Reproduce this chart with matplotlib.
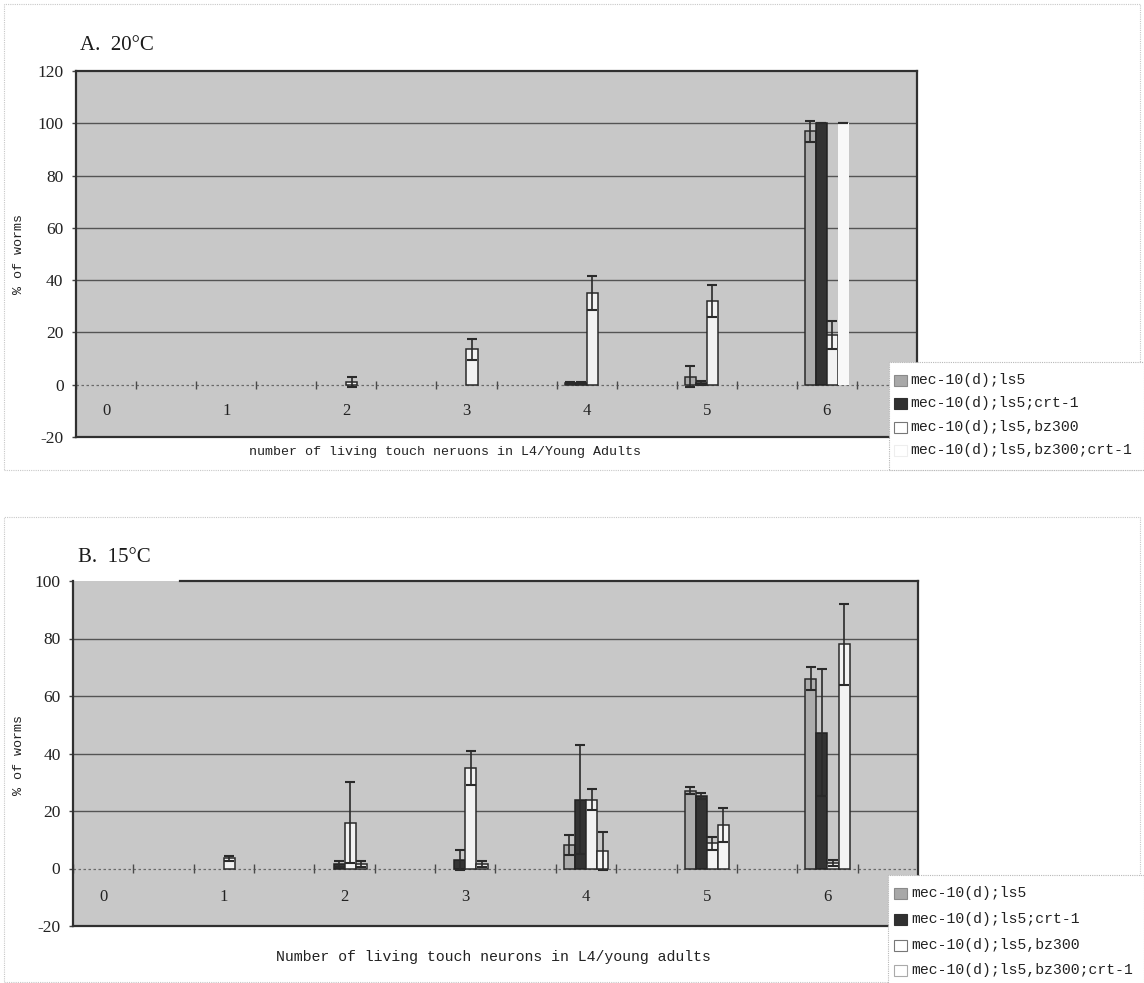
import matplotlib
matplotlib.use("Agg")
import matplotlib.pyplot as plt
from matplotlib.patches import Rectangle
from matplotlib.lines import Line2D
import numpy as np

# ---------------- data ----------------
categories = [0, 1, 2, 3, 4, 5, 6]
series_names = ["mec-10(d);ls5", "mec-10(d);ls5;crt-1",
                "mec-10(d);ls5,bz300", "mec-10(d);ls5,bz300;crt-1"]

# Panel A: 20 C
A_s1 = [0, 0, 0, 0, 0.5, 3, 97]
A_s1_err = [0, 0, 0, 0, 0.4, 4, 4]
A_s2 = [0, 0, 0, 0, 0.5, 0.8, 100]
A_s2_err = [0, 0, 0, 0, 0.4, 0.8, 0]
A_s3 = [0, 0, 1, 13.5, 35, 32, 19]
A_s3_err = [0, 0, 2, 4, 6.5, 6, 5.5]
A_s4 = [0, 0, 0, 0, 0, 0, 100]
A_s4_err = [0, 0, 0, 0, 0, 0, 0]

# Panel B: 15 C
B_s1 = [0, 0, 0, 0, 8.3, 27, 66]
B_s1_err = [0, 0, 0, 0, 3.5, 1.2, 4]
B_s2 = [0, 0, 1.5, 3, 24, 25.3, 47.3]
B_s2_err = [0, 0, 1, 3.5, 19, 1, 22]
B_s3 = [0, 3.5, 16, 35, 24, 8.7, 2]
B_s3_err = [0, 1, 14, 6, 3.7, 2.2, 1]
B_s4 = [0, 0, 1.5, 1.5, 6, 15.2, 78]
B_s4_err = [0, 0, 1, 1, 6.6, 6, 14]

A_yticks = [-20, 0, 20, 40, 60, 80, 100, 120]
B_yticks = [-20, 0, 20, 40, 60, 80, 100]

# ---------------- style ----------------
W, H = 1144, 983
fig = plt.figure(figsize=(W / 100, H / 100), dpi=100)
fig.patch.set_facecolor("white")

SERIF = ["Liberation Serif", "DejaVu Serif"]
MONO = ["Liberation Mono", "DejaVu Sans Mono"]
PLOT_BG = "#c8c8c8"
DARK = "#2a2a2a"
GRID = "#545454"

def fx(px):
    return px / W

def fy(py):
    return 1 - py / H

def ax_rect(l, t, r, b):
    return [fx(l), fy(b), fx(r) - fx(l), fy(t) - fy(b)]

bar_w = 0.092
offsets = [-1.5 * bar_w, -0.5 * bar_w, 0.5 * bar_w, 1.5 * bar_w]


def draw_panel(ax, vals, errs, styles, ylim, yticks):
    ax.set_facecolor(PLOT_BG)
    ax.set_xlim(-0.25, 6.75)
    ax.set_ylim(*ylim)
    cats = np.array(categories, dtype=float)
    for yv in yticks:
        if yv > 0 and yv < ylim[1]:
            ax.axhline(yv, color=GRID, lw=1.0, zorder=1)
    ax.axhline(0, color="#6a6a6a", lw=0.9, ls=(0, (2, 2)), zorder=1)
    tick_x = np.arange(-0.25, 6.76, 0.5)
    ax.vlines(tick_x, -1.6, 1.6, color="#4a4a4a", lw=1.0, zorder=1)
    for i in range(4):
        v = np.array(vals[i], dtype=float)
        e = np.array(errs[i], dtype=float)
        fc, ec = styles[i]
        mask = v > 0
        ax.bar(cats[mask] + offsets[i], v[mask], width=bar_w, color=fc,
               edgecolor=ec, linewidth=1.1, zorder=3)
        emask = (v > 0) | (e > 0)
        ax.errorbar(cats[emask] + offsets[i], v[emask], yerr=e[emask], fmt="none",
                    ecolor=DARK, elinewidth=1.2, capsize=3.8, capthick=1.5, zorder=4)
    for k in categories:
        ax.text(k, -10, str(k), ha="center", va="center", fontsize=12,
                family=SERIF, color="#222222", zorder=5)
    ax.set_xticks([])
    ax.set_yticks(yticks)
    ax.set_yticklabels([str(t) for t in yticks], family=SERIF, fontsize=12.5,
                       color="#222222")
    ax.tick_params(axis="y", length=3, width=1, color="#444444", pad=6)
    for s in ax.spines.values():
        s.set_color("#303030")
        s.set_linewidth(1.6)


# ---------------- panel A ----------------
axA = fig.add_axes(ax_rect(76, 71, 917, 437))
stylesA = [("#acacac", DARK), ("#333333", "#222222"),
           ("#f2f2f2", DARK), ("#f8f8f8", "none")]
draw_panel(axA, [A_s1, A_s2, A_s3, A_s4], [A_s1_err, A_s2_err, A_s3_err, A_s4_err],
           stylesA, (-20, 120), A_yticks)

# ---------------- panel B ----------------
axB = fig.add_axes(ax_rect(73, 581, 918, 926))
stylesB = [("#acacac", DARK), ("#333333", "#222222"),
           ("#f2f2f2", DARK), ("#f4f4f4", DARK)]
draw_panel(axB, [B_s1, B_s2, B_s3, B_s4], [B_s1_err, B_s2_err, B_s3_err, B_s4_err],
           stylesB, (-20, 100), B_yticks)
axB.spines["top"].set_visible(False)
axB.add_line(Line2D([(180 - 73) / (918 - 73), 1], [1, 1], transform=axB.transAxes,
                    color="#303030", lw=1.6, clip_on=False))

# ---------------- chart borders ----------------
for (l, t, r, b) in [(4, 4, 1140, 470), (4, 517, 1140, 982)]:
    fig.add_artist(Rectangle((fx(l), fy(b)), fx(r) - fx(l), fy(t) - fy(b),
                             transform=fig.transFigure, fill=False,
                             edgecolor="#c8c8c8", lw=0.8, ls=(0, (1, 1)), zorder=0))

# ---------------- titles & axis labels ----------------
fig.text(fx(80), fy(46), "A.  20°C", family=SERIF, fontsize=15, va="center",
         ha="left", color="#1a1a1a")
fig.text(fx(78), fy(558), "B.  15°C", family=SERIF, fontsize=15, va="center",
         ha="left", color="#1a1a1a")

fig.text(fx(445), fy(452), "number of living touch neruons in L4/Young Adults",
         family=MONO, fontsize=9.6, ha="center", va="center", color="#222222")
fig.text(fx(493), fy(957), "Number of living touch neurons in L4/young adults",
         family=MONO, fontsize=10.7, ha="center", va="center", color="#222222")

fig.text(fx(19), fy(254), "% of worms", family=MONO, fontsize=9.6, rotation=90,
         ha="center", va="center", color="#222222")
fig.text(fx(19), fy(755), "% of worms", family=MONO, fontsize=9.6, rotation=90,
         ha="center", va="center", color="#222222")

# ---------------- legends (manual) ----------------
def legend(box, rows_y, sw_x, txt_x, sw_styles):
    l, t, r, b = box
    fig.add_artist(Rectangle((fx(l), fy(b)), fx(r) - fx(l), fy(t) - fy(b),
                             transform=fig.transFigure, facecolor="white",
                             edgecolor="#b8b8b8", lw=0.8, ls=(0, (1, 1)), zorder=10))
    for (yy, name, (fc, ec)) in zip(rows_y, series_names, sw_styles):
        fig.add_artist(Rectangle((fx(sw_x), fy(yy + 5.5)), fx(13), 11 / H,
                                 transform=fig.transFigure, facecolor=fc,
                                 edgecolor=ec, lw=0.8, zorder=11))
        fig.text(fx(txt_x), fy(yy), name, family=MONO, fontsize=10.6,
                 ha="left", va="center", color="#222222", zorder=12)

legend((889, 362, 1144, 470), [380, 403, 427, 450], 894, 910,
       [("#a8a8a8", "#8a8a8a"), ("#303030", "#303030"),
        ("#ffffff", "#777777"), ("#ffffff", "#eeeeee")])
legend((888, 875, 1144, 990), [893, 919, 945, 970], 894, 911,
       [("#a8a8a8", "#8a8a8a"), ("#303030", "#303030"),
        ("#ffffff", "#777777"), ("#ffffff", "#aaaaaa")])

fig.savefig("out.png", dpi=100, facecolor="white")
